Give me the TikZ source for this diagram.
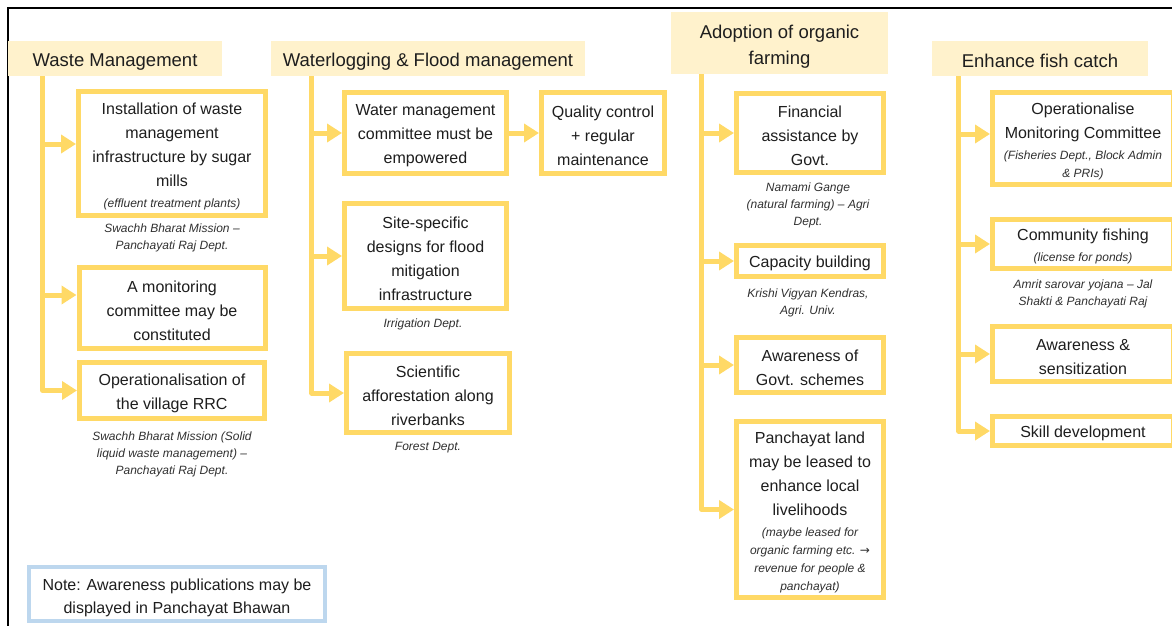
\documentclass[tikz,border=0pt]{standalone}
\usepackage{fontspec}
\setmainfont{Liberation Sans}
\newfontfamily\symfont{DejaVu Sans}
\usetikzlibrary{arrows.meta,calc}

\definecolor{gold}{HTML}{FFD966}
\definecolor{cream}{HTML}{FFF2CC}
\definecolor{noteblue}{HTML}{BDD7EE}
\definecolor{ink}{HTML}{1E1E1E}
\definecolor{subink}{HTML}{303030}

% small italic line used inside the boxes
\newcommand\subline[1]{{\fontsize{12}{17}\selectfont\itshape\color{subink}#1}}
% invisible strut that gives the first line of a box a little head room
\newcommand\tp[1][17pt]{\rule{0pt}{#1}}

\tikzset{
  head/.style={fill=cream, text=ink, inner sep=0pt, align=center,
    font=\fontsize{18.5}{26}\selectfont},
  item/.style={draw=gold, line width=5pt, fill=white, text=ink, inner sep=0pt,
    align=center, font=\fontsize{16}{24}\selectfont},
  src/.style={text=subink, inner sep=0pt, align=center, text depth=-2pt,
    font=\fontsize{12}{17}\selectfont\itshape},
  note/.style={draw=noteblue, line width=4pt, fill=white, text=ink, inner sep=0pt,
    align=center, font=\fontsize{16}{23}\selectfont},
  link/.style={draw=gold, line width=5pt, line join=round,
    -{Triangle[length=15pt,width=18pt]}},
  frame/.style={draw=black, line width=2pt},
}

\begin{document}
\begin{tikzpicture}[x=1pt,y=-1pt]
\useasboundingbox (0,0) rectangle (1172,626);

% outer frame (top and left edges)
\draw[frame] (8,660) -- (8,8) -- (1200,8);

% ---- column headings ----
\node[head, minimum width=214, minimum height=35] (h1) at (115,58.5) {\tp[19pt]Waste Management};
\node[head, minimum width=314, minimum height=35] (h2) at (428,58.5) {\tp[19pt]Waterlogging \& Flood management};
\node[head, minimum width=217, minimum height=62] (h3) at (779.5,43) {\tp[21.5pt]Adoption of organic\\farming};
\node[head, minimum width=216, minimum height=35] (h4) at (1040,58.5) {\tp[19pt]Enhance fish catch};

% ---- Waste Management ----
\node[item, minimum width=187, minimum height=124] (A) at (172,153.5)
  {\tp Installation of waste\\management\\infrastructure by sugar\\mills\\[-2.7pt]\subline{(effluent treatment plants)}};
\node[item, minimum width=186, minimum height=81] (B) at (172,308)
  {\tp A monitoring\\committee may be\\constituted};
\node[item, minimum width=185, minimum height=56] (C) at (172,390.5)
  {\tp Operationalisation of\\the village RRC};
\node[src] (sA) at (172,237) {Swachh Bharat Mission --\\Panchayati Raj Dept.};
\node[src] (sC) at (172,453) {Swachh Bharat Mission (Solid\\liquid waste management) --\\Panchayati Raj Dept.};

% ---- Waterlogging & Flood management ----
\node[item, minimum width=162, minimum height=81] (D) at (425.5,133)
  {\tp Water management\\committee must be\\empowered};
\node[item, minimum width=123, minimum height=81] (E) at (603,133)
  {\tp Quality control\\+ regular\\maintenance};
\node[item, minimum width=162, minimum height=105] (F) at (425.5,256)
  {\tp Site-specific\\designs for flood\\mitigation\\infrastructure};
\node[item, minimum width=163, minimum height=79] (G) at (428,393)
  {\tp Scientific\\afforestation along\\riverbanks};
\node[src] (sF) at (423,323.5) {Irrigation Dept.};
\node[src] (sG) at (428,446.5) {Forest Dept.};

% ---- Adoption of organic farming ----
\node[item, minimum width=147, minimum height=79] (H) at (810,133)
  {\tp Financial\\assistance by\\Govt.};
\node[item, minimum width=147, minimum height=31] (I) at (810,261)
  {\tp Capacity building};
\node[item, minimum width=147, minimum height=55] (J) at (810,365)
  {\tp Awareness of\\Govt. schemes};
\node[item, minimum width=147, minimum height=176] (K) at (810,509.5)
  {\tp Panchayat land\\may be leased to\\enhance local\\livelihoods\\[-2.7pt]\subline{(maybe leased for}\\[-6pt]\subline{organic farming etc. {\upshape\symfont →}}\\[-6pt]\subline{revenue for people \&}\\[-6pt]\subline{panchayat)}};
\node[src] (sH) at (808,204) {Namami Gange\\(natural farming) -- Agri\\Dept.};
\node[src] (sI) at (808,302) {Krishi Vigyan Kendras,\\Agri. Univ.};

% ---- Enhance fish catch ----
\node[item, minimum width=181, minimum height=92] (L) at (1083,138.5)
  {\tp Operationalise\\Monitoring Committee\\[-2.7pt]\subline{(Fisheries Dept., Block Admin}\\[-6pt]\subline{\& PRIs)}};
\node[item, minimum width=181, minimum height=49] (M) at (1083,244)
  {\tp Community fishing\\[-2.7pt]\subline{(license for ponds)}};
\node[item, minimum width=181, minimum height=55] (N) at (1083,354)
  {\tp Awareness \&\\sensitization};
\node[item, minimum width=181, minimum height=29] (O) at (1083,431)
  {\tp Skill development};
\node[src] (sM) at (1083,293) {Amrit sarovar yojana -- Jal\\Shakti \& Panchayati Raj};

% ---- note ----
\node[note, minimum width=296, minimum height=54] (note) at (177,594)
  {\tp[20pt]Note: Awareness publications may be\\displayed in Panchayat Bhawan};

% ---- trunks and branches ----
\coordinate (t1) at ($(h1.south west)+(35,0)$);
\coordinate (t2) at ($(h2.south west)+(41,0)$);
\coordinate (t3) at ($(h3.south west)+(31,0)$);
\coordinate (t4) at ($(h4.south west)+(27,0)$);

\draw[link] (t1) |- (C.west);
\draw[link] (t1 |- 0,144) -- (A.west |- 0,144);
\draw[link] (t1 |- 0,295) -- (B.west |- 0,295);

\draw[link] (t2) |- (G.west);
\draw[link] (t2 |- D.west) -- (D.west);
\draw[link] (t2 |- F.west) -- (F.west);
\draw[link] (D.east) -- (E.west);

\draw[link] (t3) |- (K.west);
\draw[link] (t3 |- H.west) -- (H.west);
\draw[link] (t3 |- I.west) -- (I.west);
\draw[link] (t3 |- J.west) -- (J.west);

\draw[link] (t4) |- (O.west);
\draw[link] (t4 |- 0,134) -- (L.west |- 0,134);
\draw[link] (t4 |- M.west) -- (M.west);
\draw[link] (t4 |- N.west) -- (N.west);
\end{tikzpicture}
\end{document}
